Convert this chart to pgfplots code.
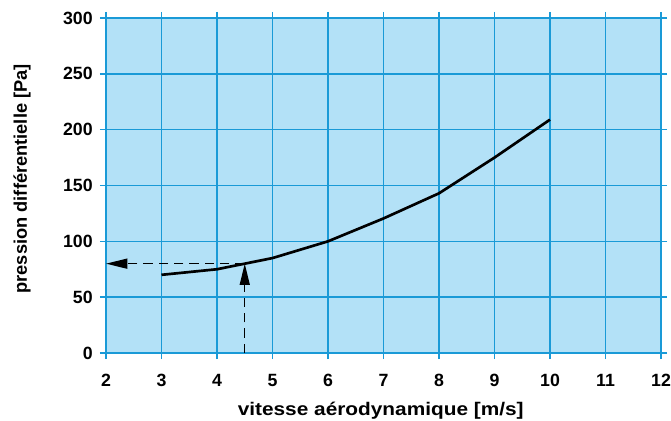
\documentclass[border=0pt]{standalone}
\usepackage{pgfplots}
\pgfplotsset{compat=1.18}
\usepackage{fontspec}
\setmainfont[FakeStretch=1.14]{Liberation Sans}
\newfontfamily\ylfont{Liberation Sans}
\usetikzlibrary{arrows.meta}
\definecolor{bgblue}{HTML}{B3E1F7}
\definecolor{lineblue}{HTML}{1A9AD7}
\begin{document}
\begin{tikzpicture}
\begin{axis}[
  scale only axis,
  width=416.25pt, height=251.25pt,
  xmin=2, xmax=12, ymin=0, ymax=300,
  xtick={2,3,...,12}, ytick={0,50,...,300},
  axis background/.style={fill=bgblue},
  axis line style={lineblue, line width=2pt},
  grid=major,
  major grid style={lineblue, line width=1.1pt},
  tick style={lineblue, line width=1.1pt},
  tick align=outside,
  major tick length=4.5pt,
  /pgf/number format/assume math mode=true,
  ticklabel style={font=\fontsize{13.3}{15}\ylfont\bfseries},
  xticklabel style={yshift=-8pt},
  yticklabel style={xshift=-2pt},
  xlabel={vitesse aérodynamique [m/s]},
  ylabel={pression différentielle [Pa]},
  xlabel style={font=\fontsize{13.7}{15}\selectfont\bfseries, at={(axis description cs:0.495,0)}, anchor=base, yshift=-46.5pt},
  ylabel style={font=\fontsize{13.7}{15}\ylfont\bfseries, at={(axis description cs:-0.1514,0.52)}, anchor=center},
  clip=false,
]
\coordinate (SW) at (rel axis cs:0,0);
\coordinate (NE) at (rel axis cs:1,1);
\addplot[black, line width=2pt] coordinates {
  (3,70) (4,75) (4.5,80) (5,85) (6,100) (7,120.5) (8,143) (9,175) (10,209)
};
\addplot[black, line width=1.1pt, dash pattern=on 7pt off 4.5pt, -{Triangle[length=16pt,width=7.5pt]}] coordinates {(4.5,80) (2,80)};
\addplot[black, line width=1.1pt, dash pattern=on 7pt off 4.5pt, -{Triangle[length=16pt,width=7.5pt]}] coordinates {(4.5,0) (4.5,80)};
\end{axis}
\path (SW) ++(-79.5pt,-51pt) coordinate (bbA);
\path (NE) ++(7.5pt,13.5pt) coordinate (bbB);
\pgfresetboundingbox
\useasboundingbox (bbA) rectangle (bbB);
\end{tikzpicture}
\end{document}
